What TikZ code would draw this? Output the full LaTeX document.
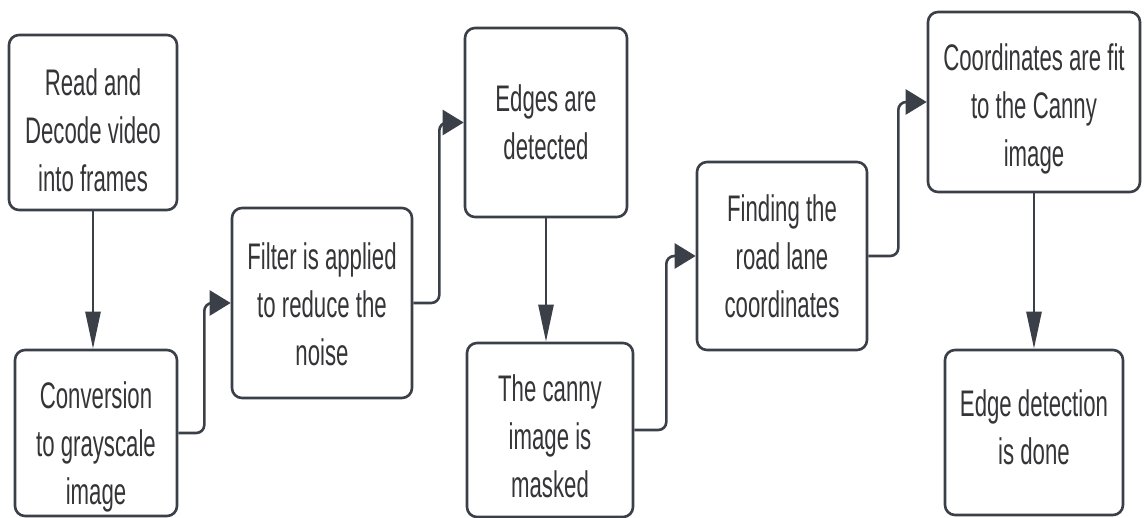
\documentclass[tikz,border=0pt]{standalone}
\usepackage{fontspec}
\setmainfont[FakeStretch=0.60]{Liberation Sans}
\usetikzlibrary{arrows.meta}
\definecolor{edge}{HTML}{3B3F48}
\definecolor{ink}{HTML}{353538}
\begin{document}
\begin{tikzpicture}[x=1pt,y=-1pt,
  stepbox/.style={draw=edge, line width=2.6pt, rounded corners=10pt, fill=white,
    inner sep=0pt},
  steptext/.style={align=center, text=ink, inner sep=0pt,
    font=\fontsize{37}{48}\selectfont},
  conn/.style={draw=edge, line width=2.6pt, rounded corners=8pt},
  hhead/.style={-{Triangle[length=21pt,width=25pt]}},
  vhead/.style={-{Triangle[length=37pt,width=15pt]}}]
\useasboundingbox (0,0) rectangle (1144,518);

% processing steps (frames)
\node[stepbox, minimum width=168pt, minimum height=175pt] (b1) at (93,122.5) {};
\node[stepbox, minimum width=162pt, minimum height=166pt] (b2) at (96,433) {};
\node[stepbox, minimum width=180pt, minimum height=190pt] (b3) at (322,303) {};
\node[stepbox, minimum width=162pt, minimum height=189pt] (b4) at (546,122.5) {};
\node[stepbox, minimum width=166pt, minimum height=174pt] (b5) at (550,430) {};
\node[stepbox, minimum width=170pt, minimum height=188pt] (b6) at (782,256) {};
\node[stepbox, minimum width=212pt, minimum height=180pt] (b7) at (1034,102) {};
\node[stepbox, minimum width=178pt, minimum height=165pt] (b8) at (1034,432.5) {};

% step captions
\node[steptext] (t1) at ([yshift=-8pt]b1.center) {Read and\\Decode video\\into frames};
\node[steptext] (t2) at ([yshift=-14pt]b2.center) {Conversion\\to grayscale\\image};
\node[steptext] (t3) at ([yshift=-1.5pt]b3.center) {Filter is applied\\to reduce the\\noise};
\node[steptext] (t4) at (b4.center) {Edges are\\detected};
\node[steptext] (t5) at ([yshift=-6.5pt]b5.center) {The canny\\image is\\masked};
\node[steptext] (t6) at (b6.center) {Finding the\\road lane\\coordinates};
\node[steptext] (t7) at ([yshift=-7pt]b7.center) {Coordinates are fit\\to the Canny\\image};
\node[steptext] (t8) at ([yshift=5pt]b8.center) {Edge detection\\is done};

% vertical transitions
\draw[conn, vhead] (b1.south) -- (b1.south |- b2.north);
\draw[conn, vhead] (b4.south) -- (b4.south |- b5.north);
\draw[conn, vhead] (b7.south) -- (b7.south |- b8.north);

% elbow transitions
\draw[conn, hhead] (b2.east) -- ++(26,0) |- (b3.west);
\draw[conn, hhead] (b3.east) -- ++(26,0) |- (b4.west);
\draw[conn, hhead] (b5.east) -- ++(32,0) |- (b6.west);
\draw[conn, hhead] (b6.east) -- ++(30,0) |- (b7.west);
\end{tikzpicture}
\end{document}
